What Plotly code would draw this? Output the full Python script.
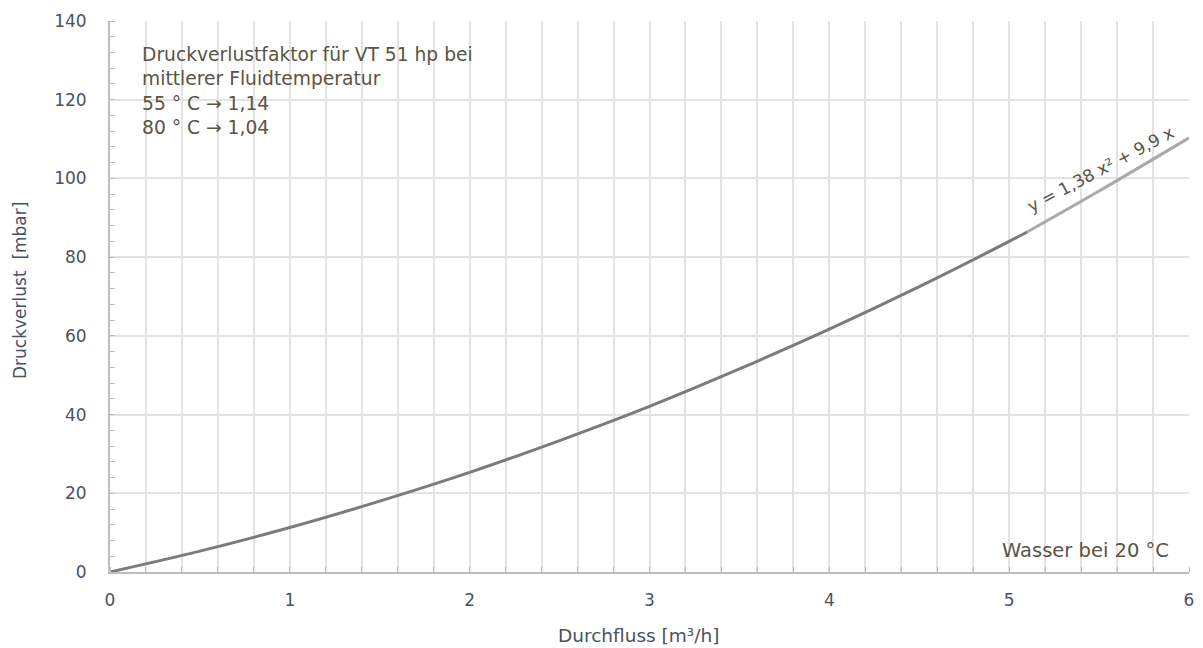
import plotly.graph_objects as go

flow = [0, 0.5, 1, 1.5, 2, 2.5, 3, 3.5, 4, 4.5, 5, 5.1]
loss = [0, 5.3, 11.3, 18.0, 25.3, 33.4, 42.1, 51.6, 61.7, 72.5, 84.0, 86.4]
flow_end = [5.1, 5.5, 6]
loss_end = [86.4, 96.8, 110.3]

x_ticks = [0, 1, 2, 3, 4, 5, 6]
y_ticks = [0, 20, 40, 60, 80, 100, 120, 140]

FONT = "DejaVu Sans, Open Sans, sans-serif"
TICKC = "#4a5263"
TEXTC = "#5a5444"

fig = go.Figure()
fig.add_trace(go.Scatter(x=flow, y=loss, mode="lines",
                         line=dict(color="#7b7b7b", width=3, shape="spline"),
                         showlegend=False, hoverinfo="skip"))
fig.add_trace(go.Scatter(x=flow_end, y=loss_end, mode="lines",
                         line=dict(color="#a9a9a9", width=3, shape="spline"),
                         showlegend=False, hoverinfo="skip"))

fig.add_annotation(x=0.165, y=134.6, xref="x", yref="y", xanchor="left", yanchor="top",
                   align="left", showarrow=False,
                   text="Druckverlustfaktor für VT 51 hp bei<br>mittlerer Fluidtemperatur<br>55 ° C → 1,14<br>80 ° C → 1,04",
                   font=dict(family=FONT, size=18.7, color=TEXTC))
fig.add_annotation(x=5.9, y=2, xref="x", yref="y", xanchor="right", yanchor="bottom",
                   showarrow=False, text="Wasser bei 20 °C",
                   font=dict(family=FONT, size=19.5, color=TEXTC))
fig.add_annotation(x=5.51, y=102.5, xref="x", yref="y", showarrow=False,
                   text="y = 1,38 x² + 9,9 x", textangle=-28,
                   font=dict(family=FONT, size=17, color=TEXTC))

# axis titles (paper coords relative to plot area)
fig.add_annotation(x=(638 - 110) / 1079, y=0.0, xref="paper", yref="paper", yshift=-63,
                   xanchor="center", yanchor="middle", showarrow=False,
                   text="Durchfluss [m³/h]", font=dict(family=FONT, size=18.5, color=TICKC))
fig.add_annotation(x=0, y=(572 - 291) / 551, xref="paper", yref="paper", xshift=-90,
                   xanchor="center", yanchor="middle", showarrow=False, textangle=-90,
                   text="Druckverlust  [mbar]", font=dict(family=FONT, size=17, color=TICKC))

fig.update_layout(
    width=1203, height=648,
    margin=dict(l=110, r=14, t=21, b=76),
    paper_bgcolor="white", plot_bgcolor="white",
    font=dict(family=FONT, color=TICKC, size=16),
    xaxis=dict(range=[0, 6], tickvals=x_ticks, showgrid=True, gridcolor="#e3e3e3", gridwidth=1.5,
               minor=dict(dtick=0.2, showgrid=True, gridcolor="#e3e3e3", gridwidth=1.5,
                          ticks="inside", ticklen=5, tickcolor="#bdbdbd"),
               showline=True, linecolor="#bdbdbd", linewidth=2, zeroline=False, automargin=False,
               ticks="", ticklabelstandoff=12, tickfont=dict(family=FONT, size=17, color=TICKC)),
    yaxis=dict(range=[0, 140], tickvals=y_ticks, showgrid=True, gridcolor="#e3e3e3", gridwidth=1.5,
               minor=dict(dtick=4, showgrid=False, ticks="inside", ticklen=5, tickcolor="#bdbdbd"),
               showline=True, linecolor="#bdbdbd", linewidth=2, zeroline=False, automargin=False,
               ticks="", ticklabelstandoff=18, tickfont=dict(family=FONT, size=17, color=TICKC)),
)

fig.write_html("out.html", config={"displayModeBar": False},
               post_script="document.body.style.margin='0';document.body.style.padding='0';")
